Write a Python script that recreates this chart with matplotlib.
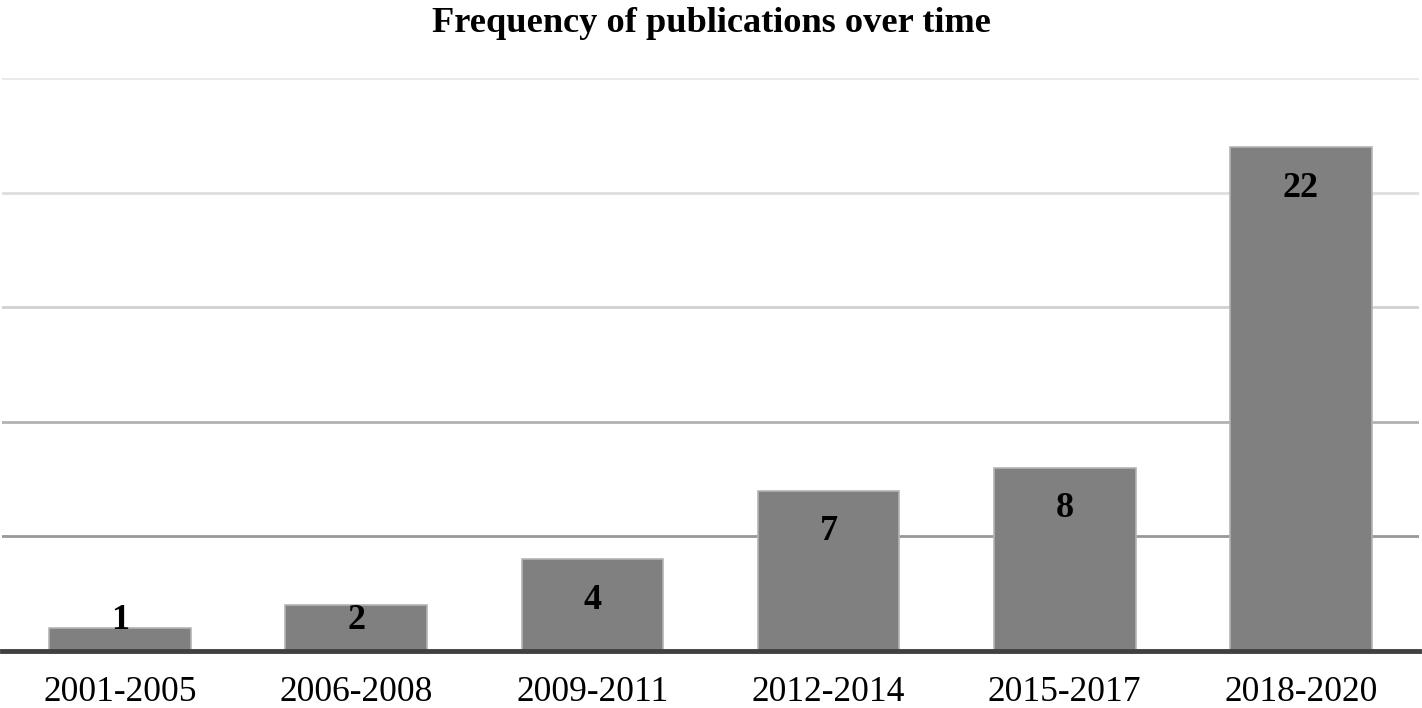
import numpy as np
import matplotlib.pyplot as plt

plt.rcParams['font.family'] = ['Liberation Serif', 'DejaVu Serif']

periods = ["2001-2005", "2006-2008", "2009-2011", "2012-2014", "2015-2017", "2018-2020"]
counts = [1, 2, 4, 7, 8, 22]
grid_levels = [5, 10, 15, 20, 25]
grid_colors = ["#989898", "#b2b2b2", "#d0d0d0", "#dedede", "#e8e8e8"]

fig = plt.figure(figsize=(14.22, 7.08), dpi=100)
ax = fig.add_axes([2 / 1422, 1 - 651 / 708, 1417 / 1422, (651 - 78) / 708])

x = np.arange(len(periods))
for lvl, col in zip(grid_levels, grid_colors):
    ax.axhline(lvl, color=col, lw=2, zorder=0)

ax.bar(x, counts, width=0.6, color="#808080", edgecolor="#b4b4b4", linewidth=1.2, zorder=2)
ax.axhline(0, color="#404040", lw=3.5, zorder=3, clip_on=False)

for xi, v in zip(x, counts):
    ax.text(xi, max(v - 1.8, 1.32), str(v), ha="center", va="center",
            fontsize=26, fontweight="bold", color="black", zorder=4)

ax.set_xlim(-0.5, len(periods) - 0.5)
ax.set_ylim(0, 25)
ax.set_xticks(x)
ax.set_xticklabels(periods, fontsize=25.5)
ax.tick_params(axis="x", length=0, pad=18)
ax.set_yticks([])
for s in ax.spines.values():
    s.set_visible(False)

fig.text(0.5, 1 - 23 / 708, "Frequency of publications over time", ha="center", va="center",
         fontsize=26.2, fontweight="bold")

fig.savefig("out.png", dpi=100)
